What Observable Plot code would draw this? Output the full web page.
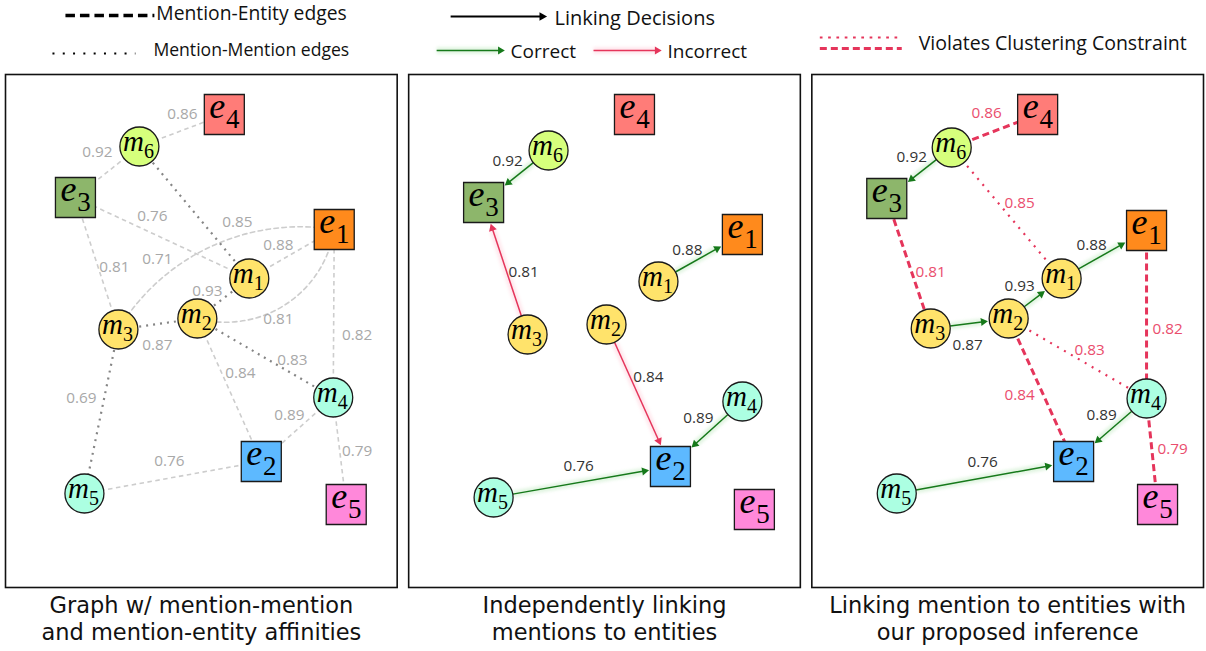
<!DOCTYPE html>
<html><head><meta charset="utf-8">
<script src="https://cdn.jsdelivr.net/npm/d3@7"></script>
<script src="https://cdn.jsdelivr.net/npm/@observablehq/plot@0.6"></script>
<style>body{margin:0;background:#fff;}</style>
</head><body><div id="chart"></div>
<script>
// ---------- data ----------
const panels = ["graph", "independent", "proposed"];
const captionLine1 = ["Graph w/ mention-mention", "Independently linking", "Linking mention to entities with"];
const captionLine2 = ["and mention-entity affinities", "mentions to entities", "our proposed inference"];

const nodeNames = ["m1","m2","m3","m4","m5","m6","e1","e2","e3","e4","e5"];
const nodeFills = ["#FFE36B","#FFE36B","#FFE36B","#ACFFE2","#ACFFE2","#D6FF7C","#FF8A1C","#5DB9FF","#8DB66B","#FF7C78","#FF88DA"];
const graphNodeX = [244,192,113,328,79,134,329,256,70,219,341];
const graphNodeY = [204,244,255,323,419,72,155,387,123,40,430];
const independentNodeX = [250,198,119,334,85,140,334,262,75,226,346];
const independentNodeY = [207,250,260,327,423,76,160,392,128,40,435];
const proposedNodeX = [250,197,119,335,85,140,335,262,75,226,346];
const proposedNodeY = [204,244,254,324,419,73,156,387,124,40,430];

// panel 1: affinity graph
const graphSource = ["m6","m6","m1","e1","m6","m1","e1","m3","m4","m2","m3","m2","m2","m4","m4","m3","m5"];
const graphTarget = ["e4","e3","e3","m3","m1","e1","m2","e3","e1","m1","m2","m4","e2","e2","e5","m5","e2"];
const graphKind   = ["me","me","me","me","mm","me","me","me","me","mm","mm","mm","me","me","me","mm","me"];
const graphValue  = [0.86,0.92,0.76,0.71,0.85,0.88,0.81,0.81,0.82,0.93,0.87,0.83,0.84,0.89,0.79,0.69,0.76];
const graphBend   = [0,0,0,-34,0,0,48,0,0,0,0,0,0,0,0,0,0];
const graphLabelX = [177,92,147,152,232,273,273,109,352,202,152,287,235,284,352,76,164];
const graphLabelY = [40,78,142,185,148,171,245,193,261,217,271,286,299,341,377,324,387];

// panel 2: independent linking
const independentSource  = ["m6","m3","m1","m2","m4","m5"];
const independentTarget  = ["e3","e3","e1","e2","e2","e2"];
const independentCorrect = [true,false,true,false,true,true];
const independentValue   = [0.92,0.81,0.88,0.84,0.89,0.76];
const independentLabelX  = [99,115,279,240,290,170];
const independentLabelY  = [87,198,176,303,344,392];

// panel 3: proposed inference
const proposedSource = ["m6","m6","m6","e3","m3","m2","m1","e1","m2","m2","m4","m4","m5"];
const proposedTarget = ["e4","e3","m1","m3","m2","m1","e1","m4","m4","e2","e2","e5","e2"];
const proposedKind   = ["violate-me","link","violate-mm","violate-me","link","link","link","violate-me","violate-mm","violate-me","link","violate-me","link"];
const proposedValue  = [0.86,0.92,0.85,0.81,0.87,0.93,0.88,0.82,0.83,0.84,0.89,0.79,0.76];
const proposedLabelX = [175,100,208,119,156,208,280,356,278,208,290,361,171];
const proposedLabelY = [39,83,129,198,271,212,171,255,276,321,341,375,388];

// ---------- styling ----------
const GREEN = "#16791a", RED = "#e5355b", RED_LABEL = "#ea4d6d";
const GRAY_DASH = "#cdcdcd", GRAY_DOT = "#858585", GRAY_LABEL = "#a8a8a8";
const R = 19.5, HALF = 20;
const SANS = "'Open Sans', sans-serif", SERIF = "'Liberation Serif', 'DejaVu Serif', serif";
const CAPTION_FONT = "'DejaVu Sans', sans-serif";
const fmt = d3.format(".2f");

// ---------- derived tables ----------
const pos = {
  graph: [graphNodeX, graphNodeY],
  independent: [independentNodeX, independentNodeY],
  proposed: [proposedNodeX, proposedNodeY]
};
const nodes = panels.flatMap(p => nodeNames.map((n, i) => ({
  panel: p, name: n, letter: n[0], digit: n.slice(1),
  x: pos[p][0][i], y: pos[p][1][i], fill: nodeFills[i], entity: n[0] === "e"
})));
const nodeOf = (p, n) => nodes.find(d => d.panel === p && d.name === n);
const reach = (nd, ux, uy) => nd.entity ? HALF / Math.max(Math.abs(ux), Math.abs(uy)) : R;

function edge(p, s, t, extra) {
  const a = nodeOf(p, s), b = nodeOf(p, t);
  return {panel: p, x1: a.x, y1: a.y, x2: b.x, y2: b.y, ...extra};
}
function arrow(p, s, t, color, head = 3.6) {
  const a = nodeOf(p, s), b = nodeOf(p, t);
  const dx = b.x - a.x, dy = b.y - a.y, L = Math.hypot(dx, dy), ux = dx / L, uy = dy / L;
  const ra = reach(a, ux, uy), rb = reach(b, ux, uy) + 0.5;
  return tipArrow(p, a.x + ux * ra, a.y + uy * ra, b.x - ux * rb, b.y - uy * rb, color, head);
}
function tipArrow(p, x1, y1, tx, ty, color, head = 3.6) {
  const dx = tx - x1, dy = ty - y1, L = Math.hypot(dx, dy), ux = dx / L, uy = dy / L;
  return {panel: p, color, glow: color === GREEN ? "#49c24d" : "#ff7090",
          x1, y1, x2: tx - ux * head * 2, y2: ty - uy * head * 2,
          hx: tx - ux * head * 1.555, hy: ty - uy * head * 1.555,
          rot: Math.atan2(ux, -uy) * 180 / Math.PI, head};
}

// panel 1 edges
const graphEdges = graphSource.map((s, i) => edge("graph", s, graphTarget[i],
  {kind: graphKind[i], bend: graphBend[i], value: graphValue[i], lx: graphLabelX[i], ly: graphLabelY[i]}));
// panel 2 arrows
const independentArrows = independentSource.map((s, i) => ({
  ...arrow("independent", s, independentTarget[i], independentCorrect[i] ? GREEN : RED),
  value: independentValue[i], lx: independentLabelX[i], ly: independentLabelY[i], labelColor: "#333"}));
// panel 3
const proposedLines = proposedSource.map((s, i) => edge("proposed", s, proposedTarget[i],
  {kind: proposedKind[i]})).filter(d => d.kind !== "link");
const proposedArrows = proposedSource.map((s, i) => proposedKind[i] === "link"
  ? arrow("proposed", s, proposedTarget[i], GREEN) : null).filter(d => d);
const proposedLabels = proposedSource.map((s, i) => ({panel: "proposed", value: proposedValue[i],
  lx: proposedLabelX[i], ly: proposedLabelY[i], labelColor: proposedKind[i] === "link" ? "#333" : RED_LABEL}));

// legend (placed above each panel, in panel-local units)
const legendArrows = [
  tipArrow("independent", 42, -58, 140, -58, "#000", 4.2),
  tipArrow("independent", 28, -24, 97, -24, GREEN, 3.4),
  tipArrow("independent", 185, -24, 254, -24, RED, 3.4)
];
const legendTexts = [
  {panel: "graph", x: 151, y: -55, text: "Mention-Entity edges", size: 19.3},
  {panel: "graph", x: 148, y: -19, text: "Mention-Mention edges", size: 17.6},
  {panel: "independent", x: 146, y: -50, text: "Linking Decisions", size: 20},
  {panel: "independent", x: 102, y: -17, text: "Correct", size: 19},
  {panel: "independent", x: 259, y: -17, text: "Incorrect", size: 19},
  {panel: "proposed", x: 107, y: -25, text: "Violates Clustering Constraint", size: 19.5}
];
const captions = panels.map((p, i) => ({panel: p, text: captionLine1[i] + "\n" + captionLine2[i]}));

const allArrows = [...independentArrows, ...proposedArrows];
const straightGraph = graphEdges.filter(d => d.bend === 0);
const bentGraph = graphEdges.filter(d => d.bend !== 0);

const marks = [
  Plot.frame({stroke: "#111", strokeWidth: 1.6}),
  // panel 1 affinity edges
  Plot.link(straightGraph.filter(d => d.kind === "me"), {x1: "x1", y1: "y1", x2: "x2", y2: "y2", fx: "panel",
    stroke: GRAY_DASH, strokeWidth: 1.6, strokeDasharray: "4.5,3.5"}),
  ...bentGraph.map(d => Plot.arrow([d], {x1: "x1", y1: "y1", x2: "x2", y2: "y2", fx: "panel", bend: d.bend,
    headLength: 0, stroke: GRAY_DASH, strokeWidth: 1.6, strokeDasharray: "4.5,3.5"})),
  Plot.link(straightGraph.filter(d => d.kind === "mm"), {x1: "x1", y1: "y1", x2: "x2", y2: "y2", fx: "panel",
    stroke: GRAY_DOT, strokeWidth: 2.2, strokeDasharray: "2,5"}),
  // panel 3 violation edges
  Plot.link(proposedLines.filter(d => d.kind === "violate-me"), {x1: "x1", y1: "y1", x2: "x2", y2: "y2", fx: "panel",
    stroke: RED, strokeWidth: 3, strokeDasharray: "7,4"}),
  Plot.link(proposedLines.filter(d => d.kind === "violate-mm"), {x1: "x1", y1: "y1", x2: "x2", y2: "y2", fx: "panel",
    stroke: RED, strokeWidth: 2.2, strokeDasharray: "2,6"}),
  // linking arrows: glow, shaft, head
  Plot.link([...allArrows, ...legendArrows.slice(1)], {x1: "x1", y1: "y1", x2: "x2", y2: "y2", fx: "panel",
    stroke: "glow", strokeWidth: 7, strokeOpacity: 0.16, imageFilter: "blur(1.5px)"}),
  Plot.link([...allArrows, ...legendArrows], {x1: "x1", y1: "y1", x2: "x2", y2: "y2", fx: "panel",
    stroke: "color", strokeWidth: d => d.color === "#000" ? 2.2 : 1.5}),
  Plot.dot([...allArrows, ...legendArrows], {x: "hx", y: "hy", fx: "panel", symbol: "triangle",
    r: "head", rotate: "rot", fill: "color", stroke: "none"}),
  // nodes
  Plot.dot(nodes.filter(d => !d.entity), {x: "x", y: "y", fx: "panel", r: R, fill: "fill", stroke: "#1a1a1a", strokeWidth: 1.3}),
  Plot.dot(nodes.filter(d => d.entity), {x: "x", y: "y", fx: "panel", symbol: "square", r: 2 * HALF / Math.sqrt(Math.PI),
    fill: "fill", stroke: "#1a1a1a", strokeWidth: 1.3}),
  Plot.text(nodes.filter(d => !d.entity), {x: "x", y: "y", fx: "panel", text: "letter", fontFamily: SERIF, fontStyle: "italic",
    fontSize: 29, lineAnchor: "bottom", dx: -6, dy: 4, fill: "#000"}),
  Plot.text(nodes.filter(d => !d.entity), {x: "x", y: "y", fx: "panel", text: "digit", fontFamily: SERIF,
    fontSize: 20, lineAnchor: "bottom", dx: 9.5, dy: 11, fill: "#000"}),
  Plot.text(nodes.filter(d => d.entity), {x: "x", y: "y", fx: "panel", text: "letter", fontFamily: SERIF, fontStyle: "italic",
    fontSize: 36, lineAnchor: "bottom", dx: -7, dy: 3, fill: "#000"}),
  Plot.text(nodes.filter(d => d.entity), {x: "x", y: "y", fx: "panel", text: "digit", fontFamily: SERIF,
    fontSize: 27, lineAnchor: "bottom", dx: 8.5, dy: 13, fill: "#000"}),
  // value labels
  Plot.text(graphEdges, {x: "lx", y: "ly", fx: "panel", text: d => fmt(d.value), fill: GRAY_LABEL,
    fontFamily: SANS, fontSize: 15.3}),
  Plot.text([...independentArrows, ...proposedLabels], {x: "lx", y: "ly", fx: "panel", text: d => fmt(d.value),
    fill: "labelColor", fontFamily: SANS, fontSize: 15.3}),
  // legend lines
  Plot.link([{panel: "graph", x1: 60, x2: 149, y: -59}], {x1: "x1", x2: "x2", y1: "y", y2: "y", fx: "panel",
    stroke: "#000", strokeWidth: 3.3, strokeDasharray: "9.5,5"}),
  Plot.link([{panel: "graph", x1: 47, x2: 130, y: -21}], {x1: "x1", x2: "x2", y1: "y", y2: "y", fx: "panel",
    stroke: "#000", strokeWidth: 2.2, strokeDasharray: "2,8.3"}),
  Plot.link([{panel: "proposed", x1: 8, x2: 90, y: -37}], {x1: "x1", x2: "x2", y1: "y", y2: "y", fx: "panel",
    stroke: RED, strokeWidth: 2, strokeDasharray: "2.7,5.6"}),
  Plot.link([{panel: "proposed", x1: 8, x2: 90, y: -26}], {x1: "x1", x2: "x2", y1: "y", y2: "y", fx: "panel",
    stroke: RED, strokeWidth: 3, strokeDasharray: "7,4"}),
  Plot.text(legendTexts, {x: "x", y: "y", fx: "panel", text: "text", textAnchor: "start", lineAnchor: "bottom",
    fontFamily: SANS, fontSize: "size", fill: "#111"}),
  // captions (two lines each)
  Plot.text(captions, {fx: "panel", frameAnchor: "bottom", text: "text", lineAnchor: "bottom", dy: 52,
    lineHeight: 1.178, fontFamily: CAPTION_FONT, fontSize: 22.5, fill: "#111"})
];

const chart = Plot.plot({
  width: 1206, height: 651,
  marginLeft: 5, marginRight: 3, marginTop: 74, marginBottom: 64,
  fx: {domain: panels, paddingInner: 0.0285, paddingOuter: 0, round: false, axis: null, label: null},
  x: {domain: [0, 392], axis: null},
  y: {domain: [0, 513], reverse: true, axis: null},
  style: {background: "#fff", overflow: "visible"},
  marks
});
document.getElementById("chart").appendChild(chart);
</script>
</body></html>
